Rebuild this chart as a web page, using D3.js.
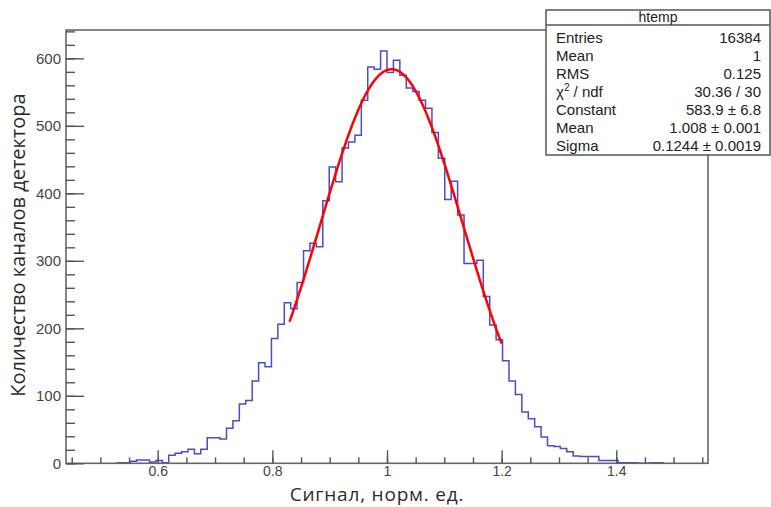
<!DOCTYPE html>
<html>
<head>
<meta charset="utf-8">
<script src="https://cdn.jsdelivr.net/npm/d3@7"></script>
<style>
  body { margin: 0; background: #fff; }
  svg { display: block; }
</style>
</head>
<body>
<div id="chart"></div>
<script>
var width = 771;
var height = 507;

// histogram: 100 bins over [0.44, 1.56]
var binLow = 0.44;
var binHigh = 1.56;
var binCounts = [
    0, 0, 0, 0, 0, 0, 0, 0, 1, 1,
    3, 5, 5, 2, 4, 1, 12, 15, 17, 21,
    14, 21, 38, 38, 36, 52, 63, 88, 93, 122,
    149, 143, 185, 206, 238, 229, 268, 315, 326, 321,
    389, 439, 417, 467, 476, 486, 538, 587, 584, 611,
    579, 597, 575, 556, 551, 538, 526, 490, 452, 391,
    418, 368, 296, 296, 301, 247, 205, 183, 152, 122,
    102, 76, 66, 54, 39, 26, 25, 22, 17, 11,
    10, 10, 10, 4, 4, 4, 1, 1, 1, 0,
    0, 1, 1, 0, 0, 0, 0, 0, 0, 0
];

// gaussian fit shown in the stats box
var fitConstant = 583.9;
var fitMean = 1.008;
var fitSigma = 0.1244;
var fitRange = [0.83, 1.2];

var xMajorTicks = [0.6, 0.8, 1.0, 1.2, 1.4];
var xTickLabels = ["0.6", "0.8", "1", "1.2", "1.4"];
var yMajorTicks = [0, 100, 200, 300, 400, 500, 600];
var yMax = 642;

var statLabels = ["Entries", "Mean", "RMS", "chi2", "Constant", "Mean", "Sigma"];
var statValues = ["16384", "1", "0.125", "30.36 / 30", "583.9 \u00b1 6.8", "1.008 \u00b1 0.001", "0.1244 \u00b1 0.0019"];

var svg = d3.select("#chart").append("svg")
    .attr("width", width)
    .attr("height", height);

var x = d3.scaleLinear().domain([binLow, binHigh]).range([66, 708]);
var y = d3.scaleLinear().domain([0, yMax]).range([463.3, 30]);

// histogram as stairs
var nb = binCounts.length;
var bw = (binHigh - binLow) / nb;
var first = binCounts.findIndex(function (c) { return c > 0; });
var last = nb - 1 - binCounts.slice().reverse().findIndex(function (c) { return c > 0; });
var pts = [[binLow + first * bw, 0]];
for (var i = first; i <= last; i++) {
    pts.push([binLow + i * bw, binCounts[i]]);
    pts.push([binLow + (i + 1) * bw, binCounts[i]]);
}
pts.push([binLow + (last + 1) * bw, 0]);

svg.append("path")
    .attr("d", d3.line().x(function (d) { return x(d[0]); }).y(function (d) { return y(d[1]); })(pts))
    .attr("fill", "none")
    .attr("stroke", "#4a4ad2")
    .attr("stroke-width", 1.5);

// fit curve
var fitX = d3.range(fitRange[0], fitRange[1] + 1e-9, (fitRange[1] - fitRange[0]) / 200);
svg.append("path")
    .attr("d", d3.line()
        .x(function (d) { return x(d); })
        .y(function (d) { return y(fitConstant * Math.exp(-0.5 * Math.pow((d - fitMean) / fitSigma, 2))); })(fitX))
    .attr("fill", "none")
    .attr("stroke", "#ff0000")
    .attr("stroke-width", 2.5);

// frame
svg.append("rect")
    .attr("x", 66).attr("y", 30)
    .attr("width", 708 - 66).attr("height", 463.3 - 30)
    .attr("fill", "none")
    .attr("stroke", "#666")
    .attr("stroke-width", 1.6);

// axes with inward ticks (ROOT style)
var yMinor = d3.range(0, yMax, 20);
svg.append("g").attr("transform", "translate(66,0)")
    .call(d3.axisLeft(y).tickValues(yMinor).tickSize(-9).tickFormat(""))
    .call(function (g) { g.select(".domain").remove(); });
var yAxis = svg.append("g").attr("transform", "translate(66,0)")
    .call(d3.axisLeft(y).tickValues(yMajorTicks).tickSize(-18).tickPadding(5).tickFormat(d3.format("d")))
    .call(function (g) { g.select(".domain").remove(); });

var xMinor = d3.range(0.45, 1.56, 0.05);
svg.append("g").attr("transform", "translate(0,463.3)")
    .call(d3.axisBottom(x).tickValues(xMinor).tickSize(-6).tickFormat(""))
    .call(function (g) { g.select(".domain").remove(); });
var xAxis = svg.append("g").attr("transform", "translate(0,463.3)")
    .call(d3.axisBottom(x).tickValues(xMajorTicks).tickSize(-13).tickPadding(3)
        .tickFormat(function (d, i) { return xTickLabels[i]; }))
    .call(function (g) { g.select(".domain").remove(); });

svg.selectAll(".tick line").attr("stroke", "#555").attr("stroke-width", 1.4);
svg.selectAll(".tick text")
    .attr("font-family", "Liberation Sans, Arial, sans-serif")
    .attr("font-size", 15)
    .attr("fill", "#444");
xAxis.selectAll(".tick text").attr("font-size", 14).attr("dy", "0.71em");

// axis titles
svg.append("text")
    .attr("x", 377).attr("y", 501)
    .attr("text-anchor", "middle")
    .attr("font-family", "Open Sans, sans-serif")
    .attr("font-size", 19)
    .attr("letter-spacing", 0.8)
    .attr("fill", "#2b2b2b")
    .text("Сигнал, норм. ед.");

svg.append("text")
    .attr("transform", "translate(25,245) rotate(-90)")
    .attr("text-anchor", "middle")
    .attr("font-family", "Open Sans, sans-serif")
    .attr("font-size", 20)
    .attr("fill", "#2b2b2b")
    .text("Количество каналов детектора");

// stats box
var box = svg.append("g");
box.append("rect")
    .attr("x", 546).attr("y", 10).attr("width", 224).attr("height", 145)
    .attr("fill", "#fff").attr("stroke", "#555").attr("stroke-width", 1.5);
box.append("line")
    .attr("x1", 546).attr("x2", 770).attr("y1", 25).attr("y2", 25)
    .attr("stroke", "#555").attr("stroke-width", 1.5);
box.append("text")
    .attr("x", 658).attr("y", 22)
    .attr("text-anchor", "middle")
    .attr("font-family", "Liberation Sans, Arial, sans-serif")
    .attr("font-size", 14)
    .attr("fill", "#222")
    .text("htemp");

statLabels.forEach(function (lab, i) {
    var by = 43 + i * 18;
    var t = box.append("text")
        .attr("x", 556).attr("y", by)
        .attr("font-family", "Liberation Sans, Arial, sans-serif")
        .attr("font-size", 15)
        .attr("fill", "#222");
    if (lab === "chi2") {
        t.append("tspan").text("\u03c7");
        t.append("tspan").attr("font-size", 10).attr("dy", -6).text("2");
        t.append("tspan").attr("dy", 6).text(" / ndf");
    } else {
        t.text(lab);
    }
    box.append("text")
        .attr("x", 761).attr("y", by)
        .attr("text-anchor", "end")
        .attr("font-family", "Liberation Sans, Arial, sans-serif")
        .attr("font-size", 15)
        .attr("fill", "#222")
        .text(statValues[i]);
});
</script>
</body>
</html>
